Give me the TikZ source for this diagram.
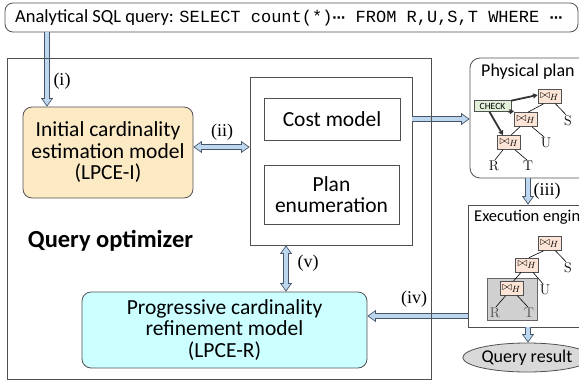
\documentclass[tikz,border=0pt]{standalone}
\usepackage{fontspec}
\newfontfamily\calib{Carlito}
\newfontfamily\tnr{Liberation Serif}
\newfontfamily\cour{Liberation Mono}
\newfontfamily\djv{DejaVu Sans}
\usetikzlibrary{arrows.meta,shapes.geometric}
\definecolor{arrowblue}{RGB}{189,215,238}
\definecolor{arrowedge}{RGB}{70,85,105}
\definecolor{boxedge}{RGB}{80,80,80}
\definecolor{initfill}{RGB}{252,234,197}
\definecolor{refinefill}{RGB}{204,255,255}
\definecolor{joinfill}{RGB}{252,228,214}
\definecolor{checkfill}{RGB}{226,240,217}
\definecolor{grayfill}{RGB}{208,208,208}
\definecolor{resultfill}{RGB}{217,217,217}
\newcommand\dotsep{{\djv\bfseries\fontsize{13}{13}\selectfont ⋯}}
\tikzset{
  btip/.tip={Triangle[length=8.5pt,width=12pt,fill=arrowblue,line width=0.7pt]},
  barrow/.style={draw=arrowedge, line width=6pt, -btip,
    postaction={draw=arrowblue, line width=4.4pt, -, shorten >=7.5pt}},
  bdarrow/.style={draw=arrowedge, line width=6pt, btip-btip,
    postaction={draw=arrowblue, line width=4.4pt, -, shorten >=7.5pt, shorten <=7.5pt}},
  plainbox/.style={draw=boxedge, line width=0.8pt, inner sep=0pt},
  mainf/.style={font=\calib\fontsize{21.5}{21.5}\selectfont},
  smallf/.style={font=\calib\fontsize{18}{20}\selectfont},
  steplabel/.style={font=\tnr\fontsize{18}{18}\selectfont, inner sep=0pt},
  joinnode/.style={draw=boxedge, line width=0.7pt, fill=joinfill, minimum width=23pt, minimum height=14pt, inner sep=0pt, font=\fontsize{13}{13}\selectfont},
  checknode/.style={draw=boxedge, line width=0.7pt, fill=checkfill, minimum width=37pt, minimum height=11pt, inner sep=0pt, font=\calib\fontsize{9.5}{9.5}\selectfont},
  leaf/.style={font=\fontsize{14}{14}\selectfont, inner sep=0pt},
  treeedge/.style={draw=black, line width=0.6pt},
  chkarrow/.style={draw=black!80, line width=1.8pt, -{Triangle[length=4.5pt,width=5pt]}}
}
\begin{document}
\begin{tikzpicture}[x=1pt,y=-1pt]
\useasboundingbox (0,0) rectangle (579,384);
\clip (0,0) rectangle (579,384);

% top query box
\node[plainbox, rounded corners=8pt, minimum width=573pt, minimum height=29pt] (query) at (291.5,17.5) {};
\node[anchor=west, inner sep=0pt] (querytext) at (15,17.5)
  {{\calib\fontsize{18.5}{20}\selectfont Analytical SQL query: }{\cour\fontsize{17}{20}\selectfont SELECT count(*)\dotsep\ FROM R,U,S,T WHERE \dotsep}};

% optimizer contents
\node[plainbox, fill=initfill, rounded corners=9pt, minimum width=170pt, minimum height=91pt, align=center, mainf] (init) at (108,152.5)
  {Initial cardinality\\estimation model\\(LPCE-I)};
\node[plainbox, minimum width=162pt, minimum height=168pt] (opt) at (331,161) {};
\node[plainbox, minimum width=136pt, minimum height=42pt, mainf] (cost) at (332,119) {Cost model};
\node[plainbox, minimum width=135pt, minimum height=59pt, align=center, mainf] (plan) at (331.5,194.5) {Plan\\enumeration};
\node[font=\calib\bfseries\fontsize{24.5}{26}\selectfont, inner sep=0pt] (qolabel) at (110.5,241) {Query optimizer};
\node[plainbox, fill=refinefill, rounded corners=9pt, minimum width=285pt, minimum height=76pt, align=center, mainf] (refine) at (224.5,330)
  {Progressive cardinality\\refinement model\\(LPCE-R)};

% physical plan box
\node[plainbox, rounded corners=10pt, minimum width=140pt, minimum height=120pt] (phys) at (540,118) {};
\node[smallf, anchor=west, inner sep=0pt] (physlabel) at (481,72) {Physical plan};
\node[joinnode] (pj1) at (549.5,96.5) {$\bowtie_H$};
\node[joinnode] (pj2) at (526,119.5) {$\bowtie_H$};
\node[joinnode] (pj3) at (509,142.5) {$\bowtie_H$};
\node[checknode] (check) at (492.5,106) {CHECK};
\node[leaf] (ps) at (568,121) {S};
\node[leaf] (pu) at (546,143) {U};
\node[leaf] (pr) at (494,166) {R};
\node[leaf] (pt) at (528,166) {T};
\draw[treeedge] ([xshift=-6pt]pj1.south) -- ([xshift=2pt]pj2.north);
\draw[treeedge] ([xshift=6pt]pj1.south) -- ([xshift=-2pt,yshift=1pt]ps.north);
\draw[treeedge] ([xshift=-6pt]pj2.south) -- ([xshift=2pt]pj3.north);
\draw[treeedge] ([xshift=6pt]pj2.south) -- ([xshift=-2pt,yshift=1pt]pu.north);
\draw[treeedge] ([xshift=-6pt]pj3.south) -- ([xshift=1pt,yshift=1pt]pr.north);
\draw[treeedge] ([xshift=6pt]pj3.south) -- ([xshift=-1pt,yshift=1pt]pt.north);
\draw[chkarrow] ([yshift=-0.5pt]check.north east) -- ([yshift=1.5pt]pj1.west);
\draw[chkarrow] ([xshift=-3pt]check.south east) -- ([yshift=1pt]pj2.north west);
\draw[chkarrow] ([xshift=-3pt]check.south) -- ([xshift=-6pt]pj3.north);

% execution engine box
\node[plainbox, minimum width=140pt, minimum height=122pt] (exec) at (538,266) {};
\node[font=\calib\fontsize{16.5}{18}\selectfont, anchor=west, inner sep=0pt] (execlabel) at (474,217) {Execution engine};
\node[plainbox, draw=black!60, fill=grayfill, minimum width=50pt, minimum height=42pt] (scan) at (512,299) {};
\node[joinnode] (ej1) at (549.5,243.5) {$\bowtie_H$};
\node[joinnode] (ej2) at (527,265) {$\bowtie_H$};
\node[joinnode] (ej3) at (511.5,288.5) {$\bowtie_H$};
\node[leaf] (es) at (568,268) {S};
\node[leaf] (eu) at (545,290) {U};
\node[leaf, text=black!70] (er) at (495,313) {R};
\node[leaf, text=black!70] (et) at (529,313) {T};
\draw[treeedge] ([xshift=-6pt]ej1.south) -- ([xshift=2pt]ej2.north);
\draw[treeedge] ([xshift=6pt]ej1.south) -- ([xshift=-2pt,yshift=1pt]es.north);
\draw[treeedge] ([xshift=-6pt]ej2.south) -- ([xshift=2pt]ej3.north);
\draw[treeedge] ([xshift=6pt]ej2.south) -- ([xshift=-2pt,yshift=1pt]eu.north);
\draw[treeedge] ([xshift=-6pt]ej3.south) -- ([xshift=1pt,yshift=1pt]er.north);
\draw[treeedge] ([xshift=6pt]ej3.south) -- ([xshift=-1pt,yshift=1pt]et.north);

% query result
\node[ellipse, draw=boxedge, line width=0.8pt, fill=resultfill, minimum width=106pt, minimum height=29pt, inner sep=0pt, smallf] (result) at (527,357.5) {Query result};

% block arrows
\coordinate (ix) at (47,0);
\coordinate (iiy) at (0,147);
\coordinate (vx) at (286,0);
\coordinate (iiix) at (528,0);
\coordinate (ivy) at (0,316);
\draw[barrow] (query.south -| ix) -- (init.north -| ix);
\draw[bdarrow] (init.east |- iiy) -- (opt.west |- iiy);
\draw[barrow] (opt.east |- cost.east) -- (phys.west |- cost.east);
\draw[barrow] (phys.south -| iiix) -- (exec.north -| iiix);
\draw[barrow] (exec.south -| iiix) -- (result.north -| iiix);
\draw[barrow] (exec.west |- ivy) -- (refine.east |- ivy);
\draw[bdarrow] (opt.south -| vx) -- (refine.north -| vx);

% outer optimizer box (drawn over arrows)
\node[plainbox, minimum width=424pt, minimum height=321pt] (qo) at (219,218.5) {};

% step labels
\node[steplabel] (li) at (62,81) {(i)};
\node[steplabel] (lii) at (222,132) {(ii)};
\node[steplabel] (liii) at (547,191) {(iii)};
\node[steplabel] (liv) at (414,299) {(iv)};
\node[steplabel] (lv) at (308,263) {(v)};
\end{tikzpicture}
\end{document}
